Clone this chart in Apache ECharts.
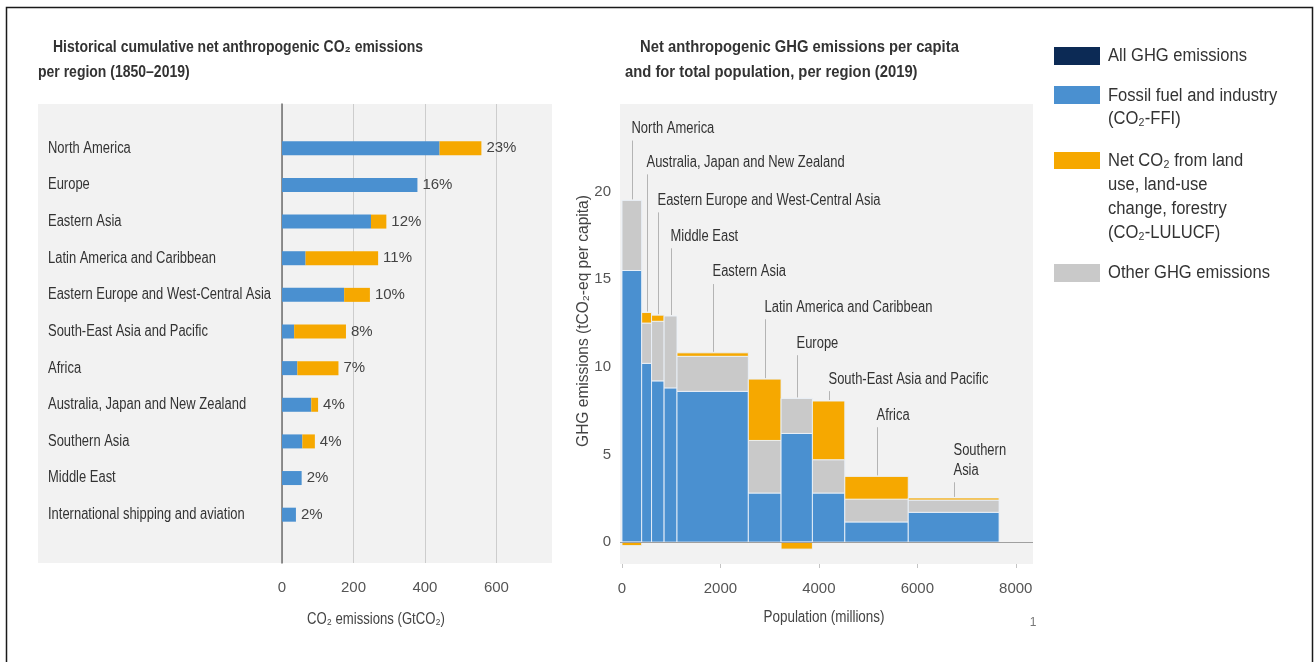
<!DOCTYPE html>
<html><head><meta charset="utf-8">
<script src="https://cdn.jsdelivr.net/npm/echarts@6/dist/echarts.min.js"></script>
<style>html,body{margin:0;padding:0;background:#fff}#c{width:1315px;height:662px}</style>
</head><body><div id="c"></div>
<script>
// ---------- data: left panel (cumulative CO2 1850-2019, GtCO2) ----------
const histRegions = ['North America','Europe','Eastern Asia','Latin America and Caribbean','Eastern Europe and West-Central Asia','South-East Asia and Pacific','Africa','Australia, Japan and New Zealand','Southern Asia','Middle East','International shipping and aviation'];
const histFFI =     [441, 379, 249,  66, 174,  34,  43, 82, 57, 55, 39];
const histLULUCF =  [117,   0,  43, 203,  72, 145, 115, 19, 35,  0,  0];
const histShare =   ['23%','16%','12%','11%','10%','8%','7%','4%','4%','2%','2%'];
const histTicks =   [0, 200, 400, 600];

// ---------- data: right panel (per-capita GHG 2019, tCO2-eq; population, millions) ----------
const pcRegions = ['North America','Australia, Japan and New Zealand','Eastern Europe and West-Central Asia','Middle East','Eastern Asia','Latin America and Caribbean','Europe','South-East Asia and Pacific','Africa','Southern Asia'];
const pcPopulation = [400, 201, 255, 262, 1449, 665, 637, 658, 1289, 1845];
const pcFFI =        [15.5, 10.2, 9.2, 8.8, 8.6, 2.8, 6.2, 2.8, 1.15, 1.7];
const pcOther =      [4.0,  2.3,  3.4, 4.1, 2.0, 3.0, 2.0, 1.9, 1.3,  0.7];
const pcLULUCF =     [-0.2, 0.6, 0.35, 0,   0.2, 3.5, -0.4, 3.35, 1.3, 0.12];
const pcXTicks = [0, 2000, 4000, 6000, 8000];
const pcYTicks = [0, 5, 10, 15, 20];

// ---------- layout (not data) ----------
const pcLabelLevel = [23.6, 21.67, 19.5, 17.45, 15.41, 13.4, 11.35, 9.3, 7.24, 4.67];
const FONT = "'Liberation Sans',Arial,sans-serif";
const NARROW = 0.81;
const C_BLUE = '#4a90d0', C_ORANGE = '#f6a800', C_GRAY = '#c9c9c9', C_NAVY = '#0c2a55', C_PANEL = '#f2f2f2', C_TEXT = '#333';

// build right-panel bar records
let acc = 0;
const pcBars = pcPopulation.map((w, i) => {
  const s = acc; acc += w;
  return [s, acc, pcFFI[i], pcOther[i], pcLULUCF[i]];
});
const pcLabels = pcBars.map((b, i) => [(b[0] + b[1]) / 2, pcLabelLevel[i], b[2] + b[3] + Math.max(b[4], 0), i]);
const histLabelData = histRegions.map((r, i) => [0, i]);

const chart = echarts.init(document.getElementById('c'), null, {renderer: 'canvas'});

function rectBetween(api, x0, x1, y0, y1, color) {
  const a = api.coord([x0, Math.max(y0, y1)]);
  const b = api.coord([x1, Math.min(y0, y1)]);
  return {type: 'rect', shape: {x: a[0], y: a[1], width: b[0] - a[0], height: b[1] - a[1]},
          style: {fill: color, stroke: 'rgba(235,242,250,0.9)', lineWidth: 1}};
}
function txt(x, y, text, o) {
  o = o || {};
  return {type: 'text', x: x, y: y, scaleX: o.sx || NARROW, rotation: o.rot || 0,
          style: {text: text, fontSize: o.fs || 16, fontWeight: o.fw || 'normal', fill: o.fill || C_TEXT,
                  fontFamily: FONT, align: o.align || 'left', verticalAlign: o.va || 'middle', lineHeight: o.lh || 20}};
}

const option = {
  animation: false,
  textStyle: {fontFamily: FONT},
  grid: [
    {left: 282, top: 104, width: 268, height: 459, show: false},
    {left: 282, top: 130, width: 268, height: 403, show: false},
    {left: 620, top: 104, width: 413, height: 460, show: true, backgroundColor: C_PANEL, borderWidth: 0}
  ],
  xAxis: [
    {gridIndex: 0, type: 'value', min: 0, max: 750,
     axisLine: {show: false}, axisTick: {show: false, customValues: histTicks},
     axisLabel: {customValues: histTicks, margin: 17, fontSize: 15, color: '#555', fontFamily: FONT, formatter: v => String(v)},
     splitLine: {show: true, lineStyle: {color: '#cdcdcd', width: 1}}},
    {gridIndex: 1, type: 'value', min: 0, max: 750, show: false},
    {gridIndex: 2, type: 'value', min: -40, max: 8350,
     axisLine: {show: false, onZero: false},
     axisTick: {show: true, customValues: pcXTicks, length: 4, lineStyle: {color: '#c4c4c4'}},
     axisLabel: {customValues: pcXTicks, margin: 17, fontSize: 15, color: '#555', fontFamily: FONT, formatter: v => String(v)},
     splitLine: {show: false}}
  ],
  yAxis: [
    {gridIndex: 0, type: 'value', min: 0, max: 1,
     axisLine: {show: true, onZero: false, lineStyle: {color: '#6f6f6f', width: 1.5}},
     axisTick: {show: false}, axisLabel: {show: false}, splitLine: {show: false}},
    {gridIndex: 1, type: 'category', data: histRegions, inverse: true,
     axisLine: {show: false}, axisTick: {show: false}, axisLabel: {show: false}},
    {gridIndex: 2, type: 'value', min: -1.25, max: 25,
     axisLine: {show: false}, axisTick: {show: false},
     axisLabel: {customValues: pcYTicks, margin: 9, fontSize: 15, color: '#555', fontFamily: FONT, formatter: v => String(v)},
     splitLine: {show: false}}
  ],
  series: [
    {type: 'bar', name: 'Fossil fuel and industry (CO₂-FFI)', xAxisIndex: 1, yAxisIndex: 1, stack: 'hist',
     barWidth: 14, data: histFFI, itemStyle: {color: C_BLUE}},
    {type: 'bar', name: 'Net CO₂ from LULUCF', xAxisIndex: 1, yAxisIndex: 1, stack: 'hist',
     barWidth: 14, data: histLULUCF, itemStyle: {color: C_ORANGE},
     label: {show: true, position: 'right', distance: 5, fontSize: 15, color: '#444', fontFamily: FONT,
             formatter: p => histShare[p.dataIndex]}},
    {type: 'custom', name: 'region names', xAxisIndex: 1, yAxisIndex: 1, data: histLabelData,
     encode: {x: 0, y: 1}, silent: true,
     renderItem: (params, api) => {
       const i = api.value(1);
       const p = api.coord([0, i]);
       return txt(p[0] - 234, p[1], histRegions[params.dataIndex], {fs: 16});
     }},
    {type: 'custom', name: 'per capita', xAxisIndex: 2, yAxisIndex: 2, data: pcBars,
     encode: {x: [0, 1], y: [2]},
     renderItem: (params, api) => {
       const s = api.value(0), e = api.value(1), f = api.value(2), o = api.value(3), l = api.value(4);
       const ch = [rectBetween(api, s, e, 0, f, C_BLUE), rectBetween(api, s, e, f, f + o, C_GRAY)];
       if (l > 0) ch.push(rectBetween(api, s, e, f + o, f + o + l, C_ORANGE));
       else if (l < 0) ch.push(rectBetween(api, s, e, l, 0, C_ORANGE));
       return {type: 'group', children: ch};
     },
     markLine: {silent: true, symbol: 'none', label: {show: false},
       lineStyle: {color: '#a0a0a0', width: 1, type: 'solid'}, data: [{yAxis: 0}]}},
    {type: 'custom', name: 'region labels', xAxisIndex: 2, yAxisIndex: 2, data: pcLabels,
     encode: {x: 0, y: 1}, z: 5, silent: true,
     renderItem: (params, api) => {
       const cx = api.value(0), lv = api.value(1), top = api.value(2), idx = api.value(3);
       const t = pcRegions[idx] === 'Southern Asia' ? 'Southern\nAsia' : pcRegions[idx];
       const nLines = t.split('\n').length;
       const p = api.coord([cx, lv]);
       const q = api.coord([cx, top]);
       const x = Math.round(p[0]) + 0.5;
       return {type: 'group', children: [
         {type: 'line', shape: {x1: x, y1: p[1] + nLines * 10 + 2, x2: x, y2: q[1] - 1},
          style: {stroke: '#b4b4b4', lineWidth: 1}},
         txt(x - 1, p[1], t, {fs: 16})
       ]};
     }}
  ],
  graphic: [
    {type: 'rect', z: -10, shape: {x: 38, y: 104, width: 514, height: 459}, style: {fill: C_PANEL}},
    {type: 'rect', shape: {x: 6.5, y: 7.5, width: 1306, height: 660}, style: {fill: null, stroke: '#1a1a1a', lineWidth: 1.5}},
    // titles
    txt(53, 47, 'Historical cumulative net anthropogenic CO₂ emissions', {fs: 17, fw: 'bold', sx: 0.823}),
    txt(38, 72, 'per region (1850–2019)', {fs: 17, fw: 'bold', sx: 0.823}),
    txt(640, 47, 'Net anthropogenic GHG emissions per capita', {fs: 17, fw: 'bold', sx: 0.87}),
    txt(625, 72, 'and for total population, per region (2019)', {fs: 17, fw: 'bold', sx: 0.87}),
    // axis names
    txt(376, 620, 'CO₂ emissions (GtCO₂)', {fs: 16, align: 'center', fill: '#444', sx: 0.82}),
    txt(824, 618, 'Population (millions)', {fs: 16, align: 'center', fill: '#444', sx: 0.84}),
    {type: 'text', x: 584, y: 321, rotation: Math.PI / 2, scaleX: 0.97,
     style: {text: 'GHG emissions (tCO₂-eq per capita)', fontSize: 16, fill: '#444', fontFamily: FONT, align: 'center', verticalAlign: 'middle'}},
    txt(1033, 623, '1', {fs: 12, align: 'center', fill: '#777', sx: 1}),
    // legend
    {type: 'rect', shape: {x: 1054, y: 47, width: 46, height: 18}, style: {fill: C_NAVY}},
    txt(1108, 56, 'All GHG emissions', {fs: 18, sx: 0.92}),
    {type: 'rect', shape: {x: 1054, y: 86, width: 46, height: 18}, style: {fill: C_BLUE}},
    txt(1108, 84, 'Fossil fuel and industry\n(CO₂-FFI)', {fs: 18, sx: 0.92, va: 'top', lh: 23.5}),
    {type: 'rect', shape: {x: 1054, y: 152, width: 46, height: 17}, style: {fill: C_ORANGE}},
    txt(1108, 149, 'Net CO₂ from land\nuse, land-use\nchange, forestry\n(CO₂-LULUCF)', {fs: 18, sx: 0.92, va: 'top', lh: 24}),
    {type: 'rect', shape: {x: 1054, y: 264, width: 46, height: 18}, style: {fill: C_GRAY}},
    txt(1108, 273, 'Other GHG emissions', {fs: 18, sx: 0.92})
  ]
};
chart.setOption(option);
</script>
</body></html>
